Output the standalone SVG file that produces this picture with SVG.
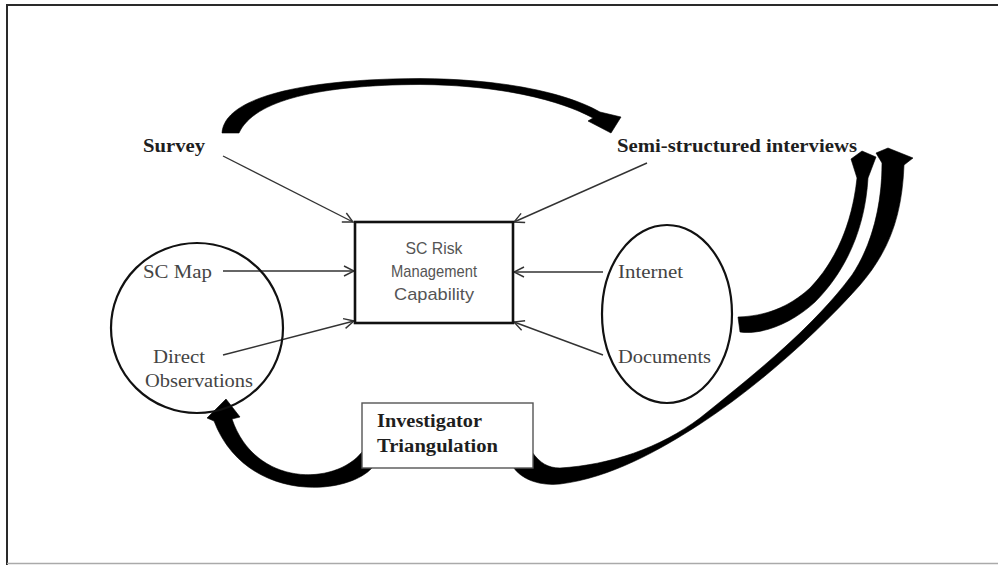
<svg xmlns="http://www.w3.org/2000/svg" width="998" height="565" viewBox="0 0 998 565">
  <style>
    .edge-dark { stroke: #2a2a2a; stroke-width: 2; fill: none; }
    .edge-light { stroke: #aaaaaa; stroke-width: 1.5; fill: none; }
    .shape { fill: none; stroke: #111111; stroke-width: 2.2; }
    .core { fill: #ffffff; stroke: #111111; stroke-width: 2.6; }
    .tbox { fill: #ffffff; stroke: #555555; stroke-width: 1.4; }
    .link { fill: none; stroke: #333333; stroke-width: 1.4; }
    .flow { fill: #000000; stroke: #000000; stroke-width: 0.6; stroke-linejoin: round; }
    .bold { font-family: "Liberation Serif", "Times New Roman", serif; font-weight: bold; font-size: 18px; fill: #1e1e1e; }
    .src { font-family: "Liberation Serif", "Times New Roman", serif; font-size: 18px; fill: #444444; }
    .core-txt { font-family: "Liberation Sans", Arial, sans-serif; font-size: 17px; fill: #555555; text-anchor: middle; }
  </style>
  <defs>
    <marker id="open" viewBox="0 0 12 12" refX="11" refY="6" markerWidth="12" markerHeight="12" markerUnits="userSpaceOnUse" orient="auto">
      <path d="M1,1 L11,6 L1,11" fill="none" stroke="#333333" stroke-width="1.4"/>
    </marker>
  </defs>

  <!-- page frame: dark top and left edges, light bottom edge -->
  <line class="edge-dark" x1="6" y1="5" x2="998" y2="5"/>
  <line class="edge-dark" x1="7" y1="4" x2="7" y2="565"/>
  <line class="edge-light" x1="7" y1="563.5" x2="998" y2="563.5"/>

  <!-- thin connectors into the capability box -->
  <g id="connectors">
    <line class="link" x1="223" y1="156" x2="353" y2="222" marker-end="url(#open)"/>
    <line class="link" x1="647" y1="163" x2="514" y2="222" marker-end="url(#open)"/>
    <line class="link" x1="223" y1="271" x2="354" y2="271" marker-end="url(#open)"/>
    <line class="link" x1="223" y1="355" x2="354" y2="321" marker-end="url(#open)"/>
    <line class="link" x1="603" y1="272" x2="514" y2="272" marker-end="url(#open)"/>
    <line class="link" x1="603" y1="355" x2="514" y2="322" marker-end="url(#open)"/>

    <!-- heavy curved flows -->
    <path class="flow" d="M222,133 C224,98 300,79 420,78.5 C500,79 565,92 600,112 L621,117 L611,133 L588,121 L593,118 C560,100 500,85 420,84.5 C320,85 254,100 239,133 Z"/>
    <path class="flow" d="M372,468 C345,497 245,502 214,421 L207,418 L226,399 L240,417 L232,419 C255,487 335,486 362,452 Z"/>
    <path class="flow" d="M513,467 C522,480 540,486 560,484 C610,478 660,450 700,424 C760,385 820,330 860,285 C890,250 902,215 904,165 L913,158 L888,148 L876,153 L882,163 C882,205 872,245 852,275 C815,325 760,370 700,418 C660,448 610,465 560,468 C548,468 540,463 532,452 Z"/>
    <path class="flow" d="M740,332 C760,335 790,325 815,302 C845,272 865,230 868,178 L876,157 L862,151 L851,159 L857,178 C852,225 835,262 810,288 C788,308 765,316 738,317 Z"/>
  </g>

  <g id="survey">
    <text class="bold" x="143" y="152" textLength="62" lengthAdjust="spacingAndGlyphs">Survey</text>
  </g>

  <g id="interviews">
    <text class="bold" x="617" y="152" textLength="240" lengthAdjust="spacingAndGlyphs">Semi-structured interviews</text>
  </g>

  <g id="capability">
    <rect class="core" x="355" y="222" width="158" height="101"/>
    <text class="core-txt" x="434" y="254" textLength="57" lengthAdjust="spacingAndGlyphs">SC Risk</text>
    <text class="core-txt" x="434" y="277" textLength="86" lengthAdjust="spacingAndGlyphs">Management</text>
    <text class="core-txt" x="434" y="300" textLength="80" lengthAdjust="spacingAndGlyphs">Capability</text>
  </g>

  <g id="observation-sources">
    <ellipse class="shape" cx="197" cy="328" rx="86" ry="85"/>
    <text class="src" x="143" y="278" textLength="69" lengthAdjust="spacingAndGlyphs">SC Map</text>
    <text class="src" x="153" y="363" textLength="52" lengthAdjust="spacingAndGlyphs">Direct</text>
    <text class="src" x="145" y="387" textLength="108" lengthAdjust="spacingAndGlyphs">Observations</text>
  </g>

  <g id="document-sources">
    <ellipse class="shape" cx="667" cy="314" rx="65" ry="89"/>
    <text class="src" x="618" y="278" textLength="65" lengthAdjust="spacingAndGlyphs">Internet</text>
    <text class="src" x="618" y="363" textLength="93" lengthAdjust="spacingAndGlyphs">Documents</text>
  </g>

  <g id="triangulation">
    <rect class="tbox" x="362" y="403" width="171" height="65"/>
    <text class="bold" x="377" y="427" textLength="105" lengthAdjust="spacingAndGlyphs">Investigator</text>
    <text class="bold" x="377" y="452" textLength="121" lengthAdjust="spacingAndGlyphs">Triangulation</text>
  </g>
</svg>
